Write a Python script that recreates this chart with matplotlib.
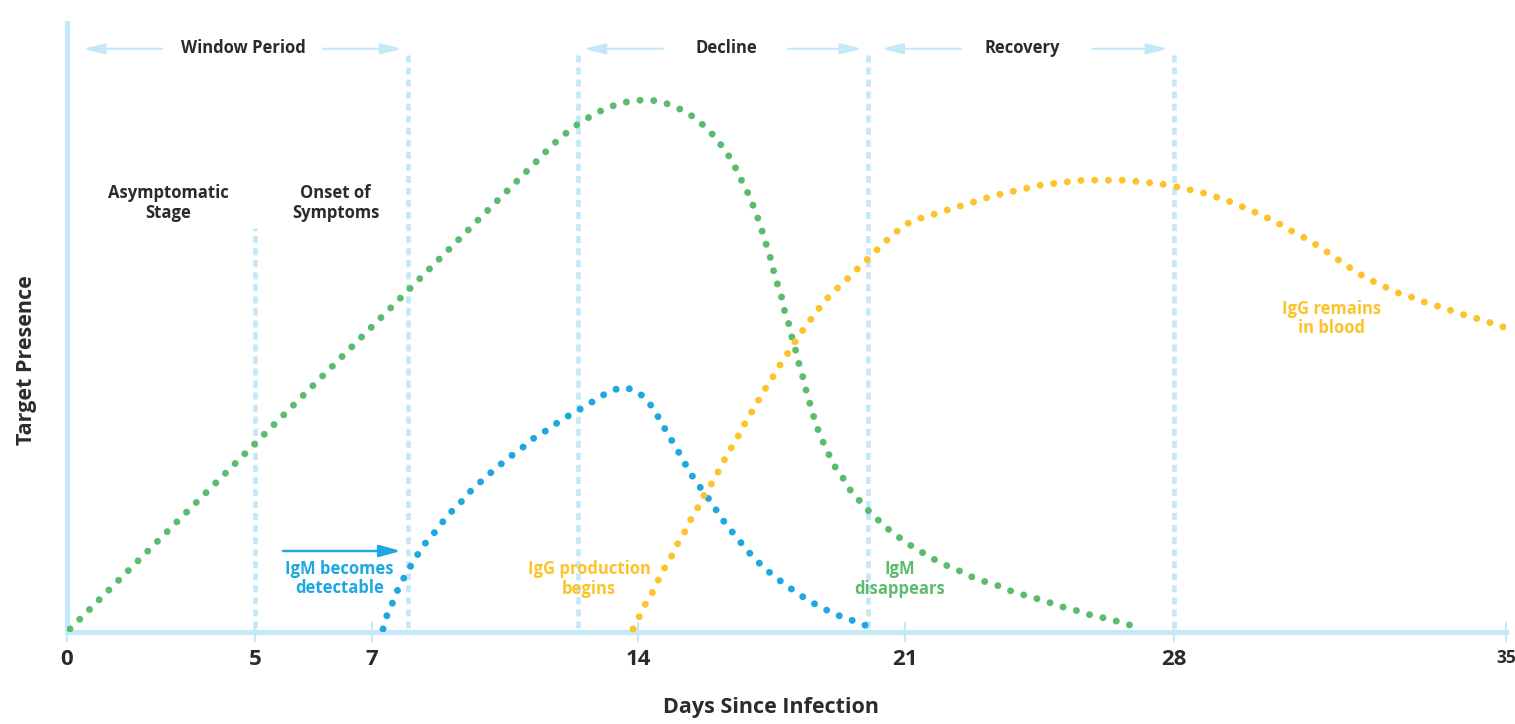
import numpy as np
import matplotlib
matplotlib.use('Agg')
import matplotlib.pyplot as plt

plt.rcParams['font.family'] = ['Open Sans', 'DejaVu Sans']

# x axis: days since infection (ticks are not evenly spaced in the original)
day_ticks = [0, 5, 7, 14, 21, 28, 35]
tick_labels = ['0', '5', '7', '14', '21', '28', '35']
tick_stops = [67, 255, 372, 638, 905, 1174, 1506]   # where each tick sits across the figure

# green curve (virus / antigen)
g_day = [0.08, 5.0, 7.0, 11.45, 11.68, 11.95, 12.21, 12.50, 12.82, 13.13,
         13.47, 13.82, 14.18, 14.52, 14.89, 15.21, 15.49, 15.76, 16.02, 16.23,
         16.44, 16.60, 16.75, 16.91, 17.04, 17.17, 17.28, 17.38, 17.49, 17.57,
         17.67, 17.78, 17.85, 17.96, 18.04, 18.14, 18.22, 18.33, 18.41, 18.51,
         18.61, 18.72, 18.85, 19.01, 19.17, 19.37, 19.56, 19.79, 20.03, 20.29,
         20.55, 20.84, 21.13, 21.44, 21.73, 22.04, 22.38, 22.69, 23.03, 23.39,
         23.68, 24.02, 24.36, 24.72, 25.03, 25.40, 25.73, 26.07, 26.41, 26.75, 27.11]
g_val = [0.5, 31.4, 50.9, 79.2, 80.8, 82.3, 83.7, 85.0, 86.2, 87.2,
         88.0, 88.5, 88.7, 88.5, 87.8, 86.8, 85.7, 84.2, 82.5, 80.7,
         78.8, 76.8, 74.8, 72.8, 70.7, 68.5, 66.3, 64.2, 62.0, 59.8,
         57.7, 55.5, 53.3, 51.2, 49.0, 46.8, 44.7, 42.3, 40.2, 38.0,
         35.8, 33.7, 31.7, 29.5, 27.5, 25.7, 23.7, 22.0, 20.3, 18.7,
         17.2, 15.8, 14.5, 13.3, 12.2, 11.2, 10.3, 9.3, 8.5, 7.8,
         7.0, 6.3, 5.7, 5.0, 4.3, 3.7, 3.0, 2.5, 2.0, 1.3, 0.8]

# blue curve (IgM)
igm_day = [7.29, 7.39, 7.53, 7.66, 7.82, 8.00, 8.18, 8.39, 8.61, 8.84,
           9.05, 9.32, 9.55, 9.82, 10.08, 10.34, 10.63, 10.92, 11.18, 11.50,
           11.79, 12.08, 12.39, 12.71, 13.00, 13.32, 13.66, 14.00, 14.26, 14.47,
           14.63, 14.81, 15.00, 15.18, 15.34, 15.55, 15.76, 15.97, 16.15, 16.36,
           16.60, 16.83, 17.07, 17.30, 17.59, 17.88, 18.17, 18.46, 18.77, 19.09,
           19.43, 19.74, 20.08]
igm_val = [0.5, 2.7, 4.7, 6.8, 8.8, 10.8, 12.7, 14.7, 16.3, 18.2,
           19.8, 21.5, 23.2, 24.8, 26.3, 27.7, 29.2, 30.5, 32.0, 33.2,
           34.5, 35.7, 36.8, 38.0, 39.2, 40.3, 40.8, 40.0, 38.5, 36.5,
           34.7, 32.7, 30.7, 28.7, 26.8, 24.8, 23.0, 21.2, 19.3, 17.5,
           15.7, 13.8, 12.2, 10.7, 9.2, 7.8, 6.5, 5.3, 4.2, 3.2,
           2.3, 1.7, 0.8]

# yellow curve (IgG)
igg_day = [13.87, 14.03, 14.18, 14.37, 14.52, 14.68, 14.87, 15.02, 15.21, 15.36,
           15.55, 15.70, 15.89, 16.07, 16.23, 16.41, 16.60, 16.75, 16.94, 17.12,
           17.30, 17.49, 17.67, 17.88, 18.06, 18.25, 18.46, 18.67, 18.90, 19.14,
           19.40, 19.66, 19.92, 20.16, 20.42, 20.69, 20.95, 21.26, 21.60, 21.94,
           22.28, 22.61, 22.95, 23.29, 23.65, 23.99, 24.33, 24.69, 25.03, 25.37,
           25.74, 26.10, 26.44, 26.80, 27.14, 27.51, 27.84, 28.17, 28.44, 28.72,
           28.99, 29.27, 29.54, 29.79, 30.05, 30.30, 30.55, 30.80, 31.06, 31.29,
           31.52, 31.75, 32.01, 32.26, 32.51, 32.79, 33.06, 33.34, 33.61, 33.87,
           34.14, 34.41, 34.69, 34.96]
igg_val = [0.5, 2.5, 4.5, 6.5, 8.5, 10.5, 12.5, 14.5, 16.5, 18.5,
           20.5, 22.5, 24.3, 26.3, 28.3, 30.3, 32.3, 34.2, 36.2, 38.2,
           40.2, 42.0, 44.0, 46.0, 47.8, 49.7, 51.5, 53.3, 55.2, 56.8,
           58.3, 60.0, 61.5, 63.0, 64.7, 66.2, 67.7, 68.7, 69.3, 70.0,
           70.7, 71.3, 72.0, 72.7, 73.2, 73.7, 74.2, 74.7, 74.8, 75.2,
           75.3, 75.3, 75.3, 75.3, 75.0, 74.8, 74.5, 74.0, 73.5, 73.0,
           72.2, 71.5, 70.5, 69.7, 68.7, 67.7, 66.5, 65.5, 64.2, 63.0,
           61.7, 60.5, 59.2, 58.2, 57.3, 56.3, 55.7, 54.8, 54.2, 53.5,
           52.8, 52.2, 51.5, 50.8]

# stage boundaries (dashed verticals)
bound_day = [5, 7.95, 12.42, 20.03, 28]
bound_top = [67.3, 97, 97, 97, 97]

LB = '#c5e8f8'
DARK = '#2b2b2b'
GREEN = '#5dbb6e'
BLUE = '#1ea7e0'
YELLOW = '#fec22d'

fig = plt.figure(figsize=(15.15, 7.24), dpi=100)
ax = fig.add_axes([67 / 1515, 92 / 724, (1506 - 67) / 1515, (632 - 23) / 724])

fwd = lambda x: np.interp(x, day_ticks, tick_stops)
inv = lambda p: np.interp(p, tick_stops, day_ticks)
ax.set_xscale('function', functions=(fwd, inv))
ax.set_xlim(0, 35)
ax.set_ylim(0, 101.5)

for s in ['top', 'right']:
    ax.spines[s].set_visible(False)
for s in ['left', 'bottom']:
    ax.spines[s].set_color(LB)
    ax.spines[s].set_linewidth(3.6)

ax.set_yticks([])
ax.set_xticks(day_ticks)
ax.set_xticklabels(tick_labels)
ax.tick_params(axis='x', direction='inout', length=15, width=1.5, color=LB,
               pad=5, labelsize=16, labelcolor=DARK)
for lbl in ax.get_xticklabels():
    lbl.set_fontweight('bold')
ax.get_xticklabels()[-1].set_fontsize(12.5)

# dashed stage lines
for d, top in zip(bound_day, bound_top):
    ax.plot([d, d], [0.7, top], color=LB, lw=3.4, linestyle=(0, (1.5, 1.05)),
            dash_capstyle='butt', zorder=2)

# dotted curves
dot = dict(lw=5.0, linestyle=(0, (0.01, 1.97)), dash_capstyle='round', zorder=4)
ax.plot(g_day, g_val, color=GREEN, **dot)
ax.plot(igm_day, igm_val, color=BLUE, **dot)
ax.plot(igg_day, igg_val, color=YELLOW, **dot)

# period headers with arrows
arrow_kw = dict(arrowstyle='-|>,head_length=1.3,head_width=0.33', color=LB, lw=1.5,
                shrinkA=0, shrinkB=0, mutation_scale=10)
for tail, tip in [(2.53, 0.43), (6.16, 7.79), (14.66, 12.58), (17.93, 19.87),
                  (22.46, 20.39), (25.87, 27.84)]:
    ax.annotate('', xy=(tip, 97.2), xytext=(tail, 97.2), arrowprops=arrow_kw)

hdr = dict(ha='center', va='center', fontsize=12, fontweight='bold', color=DARK)
ax.text(4.68, 97.3, 'Window Period', **hdr)
ax.text(16.31, 97.3, 'Decline', **hdr)
ax.text(24.04, 97.3, 'Recovery', **hdr)
ax.text(2.69, 71.5, 'Asymptomatic\nStage', linespacing=1.1, **hdr)
ax.text(6.38, 71.5, 'Onset of\nSymptoms', linespacing=1.1, **hdr)

# curve notes
ax.annotate('', xy=(7.76, 13.5), xytext=(5.48, 13.5),
            arrowprops=dict(arrowstyle='-|>,head_length=1.3,head_width=0.36', color=BLUE,
                            lw=1.8, shrinkA=0, shrinkB=0, mutation_scale=10))
note = dict(ha='center', va='center', fontsize=12, fontweight='bold', linespacing=1.1)
ax.text(6.44, 8.9, 'IgM becomes\ndetectable', color=BLUE, **note)
ax.text(12.71, 8.8, 'IgG production\nbegins', color=YELLOW, **note)
ax.text(20.87, 8.8, 'IgM\ndisappears', color=GREEN, **note)
ax.text(31.33, 52.2, 'IgG remains\nin blood', color=YELLOW, **note)

fig.text(771 / 1515, 1 - 707 / 724, 'Days Since Infection', ha='center', va='center',
         fontsize=15.5, fontweight='bold', color=DARK)
fig.text(27 / 1515, 1 - 360 / 724, 'Target Presence', ha='center', va='center',
         rotation=90, fontsize=15.5, fontweight='bold', color=DARK)

fig.savefig('out.png', dpi=100)
